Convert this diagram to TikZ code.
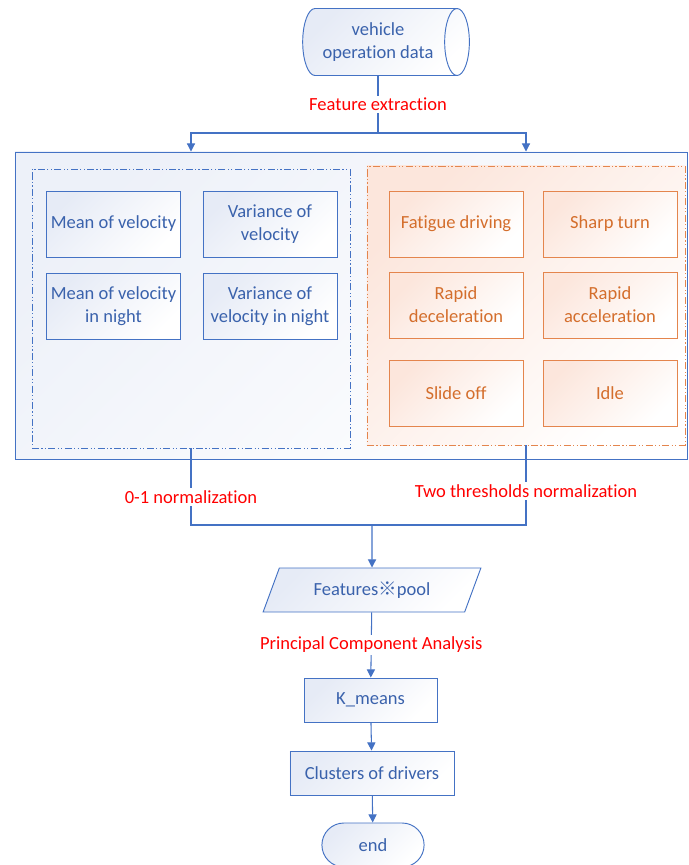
\documentclass[tikz,border=0pt]{standalone}
\usepackage{fontspec}
\setmainfont{Carlito}[Ligatures=NoCommon]
\newfontfamily\cjk{Noto Sans CJK SC}
\usepackage{xcolor}
\usetikzlibrary{shapes.geometric, shapes.misc, arrows.meta, positioning}

\definecolor{lineblue}{HTML}{4472C4}
\definecolor{textblue}{HTML}{3A62AC}
\definecolor{tintblue}{HTML}{E6EBF6}
\definecolor{lineorange}{HTML}{E4854D}
\definecolor{textorange}{HTML}{D46E2C}
\definecolor{tintorange}{HTML}{FCE6DC}

\begin{document}
\begin{tikzpicture}[x=0.03cm, y=-0.03cm,
    font=\fontsize{15.8}{19.6}\selectfont,
    >={Triangle[length=7pt,width=7pt]},
    flow/.style={draw=lineblue, line width=0.9pt},
    lbl/.style={fill=white, text=red, inner sep=2pt},
    bluefill/.style={top color=tintblue, bottom color=white, shading angle=45},
    orangefill/.style={top color=tintorange, bottom color=white, shading angle=45},
    bluebox/.style={draw=lineblue, line width=0.8pt, bluefill, text=textblue, align=center,
        minimum width=4.02cm, minimum height=1.98cm, inner sep=1pt},
    orangebox/.style={draw=lineorange, line width=0.8pt, orangefill, text=textorange, align=center,
        minimum width=4.02cm, minimum height=1.98cm, inner sep=1pt},
    stepbox/.style={draw=lineblue, line width=0.8pt, bluefill, text=textblue, align=center,
        minimum height=1.32cm},
    group/.style={line width=0.8pt, minimum width=9.54cm, minimum height=8.37cm,
        dash pattern=on 6pt off 2pt on 1pt off 2pt on 1pt off 2pt}]

  \useasboundingbox (0,0) rectangle (688,865);

  % input data
  \node[cylinder, shape aspect=0.6, draw=lineblue, line width=0.8pt, bluefill, text=textblue,
        align=center, minimum height=5.0cm, minimum width=2.01cm, inner sep=1pt] (data) at (378,42)
        {vehicle\\operation data};

  % feature containers
  \node[draw=lineblue, line width=0.8pt, top color=tintblue!70, bottom color=white, shading angle=45,
        minimum width=20.16cm, minimum height=9.21cm] (outer) at (351,305.5) {};
  \node[group, draw=lineblue] (leftgrp) at (191,308.5) {};
  \node[group, draw=lineorange, orangefill] (rightgrp) at (526,305.5) {};

  % velocity features
  \node[bluebox] (mv)  at (113.5,224) {Mean of velocity};
  \node[bluebox] (vv)  at (270,224)   {Variance of\\velocity};
  \node[bluebox] (mvn) at (113.5,306) {Mean of velocity\\in night};
  \node[bluebox] (vvn) at (270,306)   {Variance of\\velocity in night};

  % behaviour features
  \node[orangebox] (fat)  at (456,224) {Fatigue driving};
  \node[orangebox] (turn) at (610,224) {Sharp turn};
  \node[orangebox] (dec)  at (456,305) {Rapid\\deceleration};
  \node[orangebox] (acc)  at (610,305) {Rapid\\acceleration};
  \node[orangebox] (slide) at (456,393) {Slide off};
  \node[orangebox] (idle) at (610,393) {Idle};

  % processing steps
  \node[trapezium, trapezium left angle=66, trapezium right angle=114, trapezium stretches=true,
        draw=lineblue, line width=0.8pt, bluefill, text=textblue,
        minimum width=6.54cm, minimum height=1.32cm] (pool) at (372,590) {Features{\cjk ※}pool};
  \node[stepbox, minimum width=3.99cm] (kmeans) at (370.5,700) {K\_means};
  \node[stepbox, minimum width=4.92cm] (clusters) at (372,773) {Clusters of drivers};
  \node[rounded rectangle, draw=lineblue, line width=0.8pt, bluefill, text=textblue,
        minimum width=3.3cm, minimum height=1.32cm] (finish) at (373,845) {end};

  \coordinate (split) at (data.south |- 0,133);
  \coordinate (merge) at (pool.north |- 0,525);

  % connectors
  \draw[flow] (data.south) -- node[lbl]{Feature extraction} (split);
  \draw[flow,->] (split) -| (outer.north -| leftgrp);
  \draw[flow,->] (split) -| (outer.north -| rightgrp);
  \draw[flow] (leftgrp.south) -- node[lbl,pos=0.63]{0-1 normalization} (leftgrp.south |- merge)
     -- (rightgrp.south |- merge) -- node[lbl,pos=0.43]{Two thresholds normalization} (rightgrp.south);
  \draw[flow,->] (merge) -- (pool);
  \path
     (pool) edge[flow,->] node[lbl]{Principal Component Analysis} (kmeans)
     (kmeans) edge[flow,->] (clusters)
     (clusters) edge[flow,->] (finish);
\end{tikzpicture}
\end{document}
